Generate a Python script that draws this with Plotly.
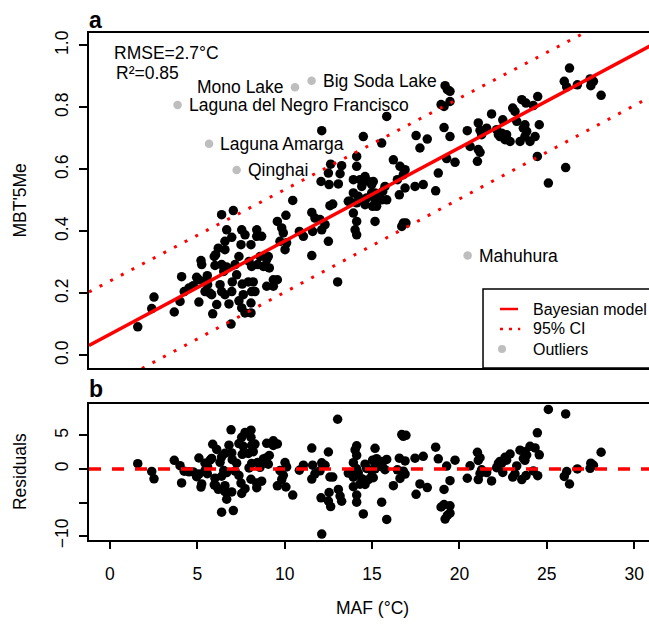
import plotly.graph_objects as go

# --- calibration data: mean annual air temperature (MAF, °C) vs MBT'5Me ---
maf = [
    1.59, 2.39, 2.52, 3.68, 4.01, 4.10, 4.25, 4.52, 4.77, 4.96,
    5.09, 5.09, 5.21, 5.25, 5.44, 5.44, 5.57, 5.59, 5.72, 5.82, 5.88, 5.97,
    6.01, 6.05, 6.11, 6.20, 6.30, 6.39, 6.39, 6.39, 6.51, 6.58, 6.58, 6.58,
    6.68, 6.68, 6.81, 6.93, 6.97, 6.97,
    7.00, 7.06, 7.16, 7.25, 7.38, 7.38, 7.50, 7.54, 7.54, 7.57, 7.63, 7.73,
    7.73, 7.92, 7.96,
    8.07, 8.07, 8.07, 8.11, 8.11, 8.20, 8.30, 8.40, 8.40, 8.45, 8.59, 8.68,
    8.78, 8.93, 8.97, 8.97,
    9.06, 9.12, 9.35, 9.35, 9.58, 9.58, 9.73, 9.83, 9.92,
    10.02, 10.07, 10.11, 10.46, 10.84,
    11.07, 11.55, 11.55, 11.60, 11.73,
    12.02, 12.08, 12.12, 12.12, 12.31, 12.50, 12.50, 12.54, 12.59, 12.63, 12.75,
    13.03, 13.07, 13.17, 13.26, 13.64, 13.74, 13.93, 13.93, 13.93,
    14.03, 14.12, 14.12, 14.12, 14.12, 14.12, 14.21, 14.31, 14.41, 14.50,
    14.60, 14.60, 14.69, 14.79, 14.98, 14.98,
    15.03, 15.07, 15.17, 15.17, 15.17, 15.26, 15.26, 15.55, 15.55, 15.61,
    15.74, 15.84, 15.84,
    16.22, 16.45, 16.56, 16.60, 16.70, 16.79, 16.79, 16.89, 16.89, 16.94,
    17.46, 17.52, 17.74, 17.93,
    18.16, 18.64, 18.79, 18.95, 19.12, 19.12, 19.18, 19.31, 19.46, 19.46,
    19.46, 19.27, 19.75,
    20.45, 20.61, 21.03, 21.08, 21.08, 21.18, 21.18, 21.27, 21.56, 21.84,
    22.13, 22.23, 22.32, 22.42, 22.48, 22.61, 22.70, 22.90, 23.05, 23.18,
    23.28, 23.47, 23.57, 23.66, 23.75, 23.75, 23.81, 23.85,
    24.04, 24.23, 24.33, 24.46, 24.48, 24.57, 25.09, 26.00, 26.08, 26.14,
    26.30, 26.75, 27.48, 27.52, 27.67, 28.11,
]
mbt = [
    0.092, 0.151, 0.188, 0.140, 0.174, 0.254, 0.206, 0.217, 0.225, 0.252,
    0.172, 0.244, 0.306, 0.293, 0.206, 0.239, 0.257, 0.228, 0.201, 0.196, 0.134, 0.319,
    0.290, 0.325, 0.164, 0.346, 0.228, 0.454, 0.293, 0.206, 0.271, 0.368, 0.341, 0.196,
    0.405, 0.285, 0.166, 0.101, 0.381, 0.206,
    0.237, 0.467, 0.293, 0.260, 0.319, 0.176, 0.357, 0.405, 0.153, 0.230, 0.196, 0.389,
    0.137, 0.237, 0.303,
    0.357, 0.169, 0.137, 0.287, 0.206, 0.237, 0.206, 0.384, 0.405, 0.293, 0.319, 0.384,
    0.287, 0.287, 0.309, 0.223,
    0.319, 0.282, 0.244, 0.223, 0.244, 0.432, 0.368, 0.411, 0.395,
    0.341, 0.452, 0.363, 0.500, 0.400,
    0.384, 0.461, 0.322, 0.400, 0.443,
    0.438, 0.561, 0.725, 0.405, 0.422, 0.368, 0.588, 0.551, 0.483, 0.617, 0.488,
    0.237, 0.553, 0.586, 0.612, 0.497, 0.497, 0.567, 0.524, 0.459,
    0.405, 0.642, 0.610, 0.492, 0.432, 0.389, 0.513, 0.567, 0.545, 0.706,
    0.577, 0.486, 0.508, 0.561, 0.524, 0.551,
    0.481, 0.561, 0.502, 0.432, 0.524, 0.518, 0.481, 0.502, 0.685, 0.529,
    0.545, 0.771, 0.502,
    0.631, 0.567, 0.518, 0.610, 0.416, 0.583, 0.427, 0.599, 0.540, 0.427,
    0.545, 0.709, 0.669, 0.551,
    0.698, 0.531, 0.588, 0.809, 0.803, 0.735, 0.870, 0.857, 0.852, 0.819,
    0.706, 0.635, 0.623,
    0.725, 0.674, 0.626, 0.750, 0.664, 0.726, 0.655, 0.712, 0.733, 0.779,
    0.728, 0.712, 0.706, 0.717, 0.760, 0.696, 0.712, 0.690, 0.798, 0.787,
    0.755, 0.690, 0.825, 0.733, 0.744, 0.706, 0.814, 0.723,
    0.690, 0.806, 0.706, 0.642, 0.835, 0.744, 0.556, 0.884, 0.606, 0.866,
    0.927, 0.873, 0.892, 0.870, 0.884, 0.839,
]

# excluded outlier sites
outlier_names = ["Mono Lake", "Big Soda Lake", "Laguna del Negro Francisco",
                 "Laguna Amarga", "Qinghai", "Mahuhura"]
outlier_maf = [10.59, 11.54, 3.87, 5.67, 7.25, 20.47]
outlier_mbt = [0.865, 0.886, 0.808, 0.683, 0.598, 0.322]

# Bayesian model fit and 95% credible interval (end points)
model_x = [-1.2, 31.2]
model_y = [0.032, 1.007]
ci_upper = [0.2045, 1.160]
ci_lower = [-0.1335, 0.842]

rmse_text = "RMSE=2.7°C"
r2_text = "R²=0.85"

x_ticks = [0, 5, 10, 15, 20, 25, 30]
y_ticks_a = [0.0, 0.2, 0.4, 0.6, 0.8, 1.0]
y_ticks_b = [-10, -5, 0, 5]
y_ticktext_b = ["\u221210", "", "0", "5"]

# residuals (°C): observed MAF minus MAF predicted from MBT'5Me by the model
slope = (model_y[1] - model_y[0]) / (model_x[1] - model_x[0])
intercept = model_y[0] - slope * model_x[0]
residuals = [t - (m - intercept) / slope for t, m in zip(maf, mbt)]

FONT = "Liberation Sans, Arial, Helvetica, sans-serif"
FS = 17.5
FS_LEGEND = 16
RED = "#FF0000"
GREY = "#BEBEBE"

fig = go.Figure()

# panel a
fig.add_trace(go.Scatter(x=maf, y=mbt, mode="markers",
                         marker=dict(color="black", size=9.5),
                         xaxis="x", yaxis="y", showlegend=False))
fig.add_trace(go.Scatter(x=outlier_maf, y=outlier_mbt, mode="markers",
                         marker=dict(color=GREY, size=8.5),
                         xaxis="x", yaxis="y", showlegend=False))
fig.add_trace(go.Scatter(x=model_x, y=model_y, mode="lines",
                         line=dict(color=RED, width=3.5),
                         xaxis="x", yaxis="y", showlegend=False))
for ci in (ci_upper, ci_lower):
    fig.add_trace(go.Scatter(x=model_x, y=ci, mode="lines",
                             line=dict(color=RED, width=3, dash="3px,9px"),
                             xaxis="x", yaxis="y", showlegend=False))

# panel b
fig.add_trace(go.Scatter(x=maf, y=residuals, mode="markers",
                         marker=dict(color="black", size=9.5),
                         xaxis="x2", yaxis="y2", showlegend=False))
fig.add_trace(go.Scatter(x=model_x, y=[0, 0], mode="lines",
                         line=dict(color=RED, width=3.5, dash="12px,11px"),
                         xaxis="x2", yaxis="y2", showlegend=False))

X_RANGE = [-1.2, 30.85]
axis_common = dict(showgrid=False, zeroline=False, showline=True,
                   linecolor="black", linewidth=1.5,
                   tickfont=dict(family=FONT, size=FS, color="black"),
                   tickcolor="black", tickwidth=1.5)

annotations = []
# outlier labels
label_shift = {"Mono Lake": ("right", -9)}
for name, x, y in zip(outlier_names, outlier_maf, outlier_mbt):
    anchor, shift = label_shift.get(name, ("left", 9))
    annotations.append(dict(x=x, y=y, xref="x", yref="y", text=name,
                            showarrow=False, xanchor=anchor, yanchor="middle",
                            xshift=shift, font=dict(family=FONT, size=FS, color="black")))

def paper_text(text, x, y, size=FS, anchor="left", bold=False, angle=0):
    return dict(x=x, y=y, xref="paper", yref="paper",
                text=f"<b>{text}</b>" if bold else text, showarrow=False,
                xanchor=anchor, yanchor="middle", textangle=angle,
                font=dict(family=FONT, size=size, color="black"))

annotations += [
    paper_text(rmse_text, 0.041, 0.9606),
    paper_text(r2_text, 0.044, 0.9211),
    paper_text("a", -0.004, 1.0256, size=23, bold=True),
    paper_text("b", -0.004, 0.2978, size=23, bold=True),
    paper_text("MBT'5Me", -0.1232, 0.6696, anchor="center", angle=-90),
    paper_text("Residuals", -0.1232, 0.1339, anchor="center", angle=-90),
    paper_text("MAF (°C)", 0.5054, -0.1341, anchor="center"),
    # legend entries
    paper_text("Bayesian model", 0.789, 0.4556, size=FS_LEGEND),
    paper_text("95% CI", 0.789, 0.4162, size=FS_LEGEND),
    paper_text("Outliers", 0.789, 0.3767, size=FS_LEGEND),
]

shapes = [
    # legend frame and keys
    dict(type="rect", xref="paper", yref="paper", x0=0.7036, x1=1.06,
         y0=0.3393, y1=0.4951, line=dict(color="black", width=1.5),
         fillcolor="white", layer="above"),
    dict(type="line", xref="paper", yref="paper", x0=0.7339, x1=0.7661,
         y0=0.4556, y1=0.4556, line=dict(color=RED, width=2.5), layer="above"),
    dict(type="line", xref="paper", yref="paper", x0=0.7339, x1=0.7700,
         y0=0.4162, y1=0.4162, line=dict(color=RED, width=2.5, dash="3px,6px"),
         layer="above"),
    dict(type="circle", xref="paper", yref="paper", x0=0.7304, x1=0.7446,
         y0=0.3688, y1=0.3846, line=dict(width=0), fillcolor=GREY, layer="above"),
]

fig.update_layout(
    width=649, height=624,
    margin=dict(l=89, r=0, t=33, b=84),
    paper_bgcolor="white", plot_bgcolor="white",
    font=dict(family=FONT, size=FS, color="black"),
    showlegend=False,
    xaxis=dict(domain=[0, 1], anchor="y", range=X_RANGE, mirror=True,
               ticks="", showticklabels=False, **axis_common),
    yaxis=dict(domain=[0.3393, 1], anchor="x", range=[-0.0406, 1.04],
               tickvals=y_ticks_a, ticktext=[f"{v:.1f}" for v in y_ticks_a],
               ticks="outside", ticklen=8, tickangle=-90, ticklabelstandoff=4,
               **axis_common),
    xaxis2=dict(domain=[0, 1], anchor="y2", range=X_RANGE, mirror=True,
                tickvals=x_ticks, ticktext=[str(v) for v in x_ticks],
                ticks="outside", ticklen=7, ticklabelstandoff=10, **axis_common),
    yaxis2=dict(domain=[0, 0.2677], anchor="x2", range=[-10.59, 9.65],
                tickvals=y_ticks_b, ticktext=y_ticktext_b,
                ticks="outside", ticklen=8, tickangle=-90, ticklabelstandoff=4,
                **axis_common),
    annotations=annotations,
    shapes=shapes,
)

fig.write_html("out.html")
